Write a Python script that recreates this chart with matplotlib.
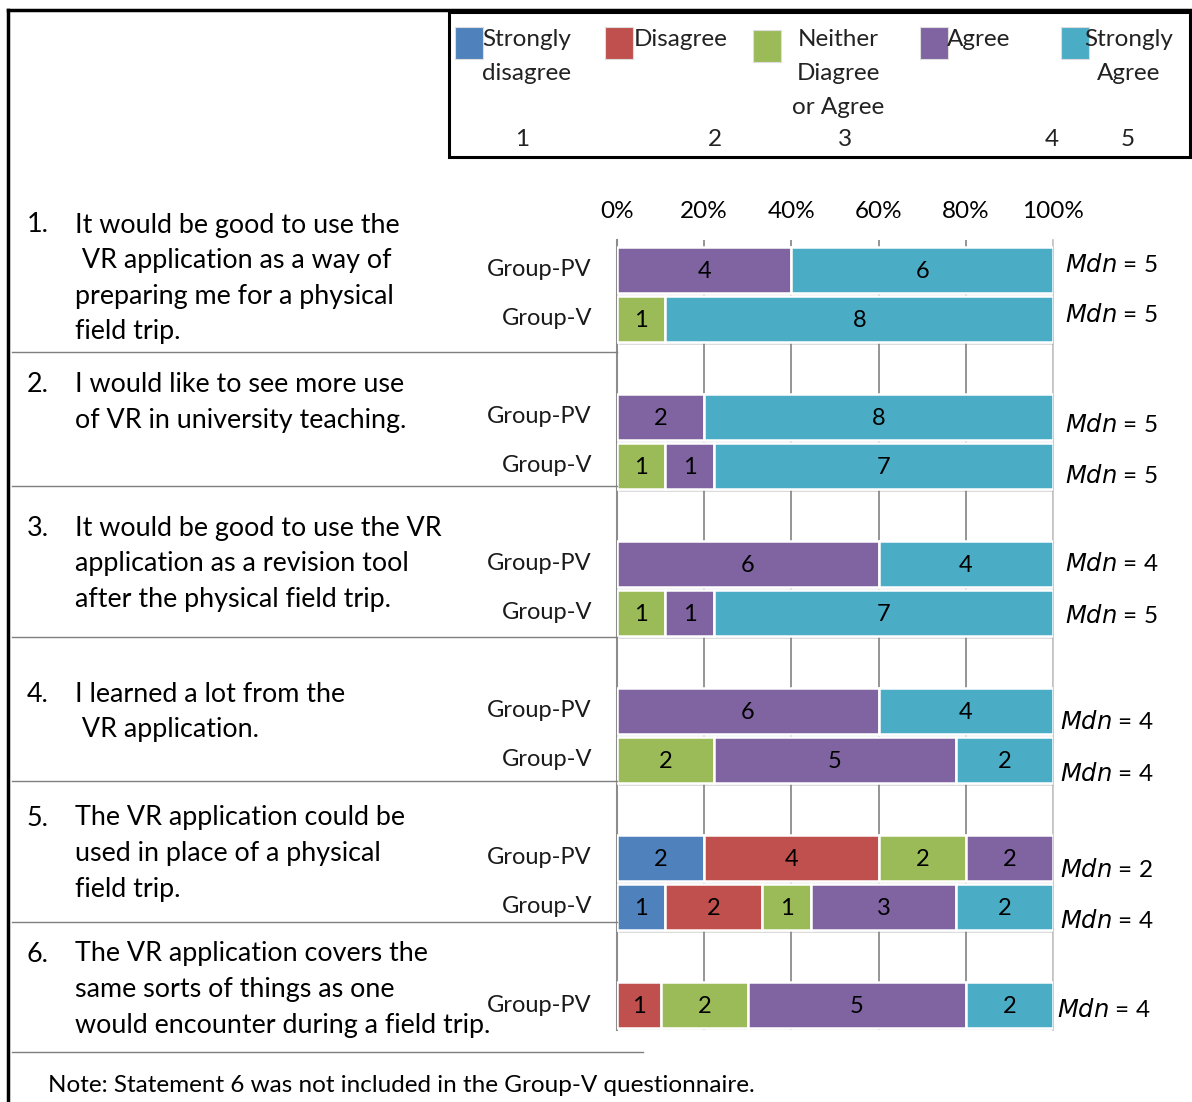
import matplotlib
matplotlib.use("Agg")
import matplotlib.pyplot as plt
import matplotlib.transforms as mtransforms
from matplotlib.patches import Rectangle
from matplotlib.lines import Line2D
import matplotlib.patheffects as pe
import numpy as np

plt.rcParams['font.family'] = ['Lato', 'DejaVu Sans']

# ---- data ----
levels = ["Strongly\ndisagree", "Disagree", "Neither\nDiagree\nor Agree", "Agree", "Strongly\nAgree"]
level_colors = ["#4F81BD", "#C0504D", "#9BBB59", "#8064A2", "#4BACC6"]

statements = [
    "It would be good to use the\n VR application as a way of\npreparing me for a physical\nfield trip.",
    "I would like to see more use\nof VR in university teaching.",
    "It would be good to use the VR\napplication as a revision tool\nafter the physical field trip.",
    "I learned a lot from the\n VR application.",
    "The VR application could be\nused in place of a physical\nfield trip.",
    "The VR application covers the\nsame sorts of things as one\nwould encounter during a field trip.",
]

# counts per response level (1..5)
group_pv = [
    [0, 0, 0, 4, 6],
    [0, 0, 0, 2, 8],
    [0, 0, 0, 6, 4],
    [0, 0, 0, 6, 4],
    [2, 4, 2, 2, 0],
    [0, 1, 2, 5, 2],
]
group_v = [
    [0, 0, 1, 0, 8],
    [0, 0, 1, 1, 7],
    [0, 0, 1, 1, 7],
    [0, 0, 2, 5, 2],
    [1, 2, 1, 3, 2],
    None,
]
median_pv = [5, 5, 4, 4, 2, 4]
median_v = [5, 5, 5, 4, 4, None]

x_ticks = [0, 20, 40, 60, 80, 100]

note = "Note: Statement 6 was not included in the Group-V questionnaire."

# ---- layout helpers (pixel coordinates of the canvas) ----
W, H = 1192, 1102
fig = plt.figure(figsize=(W / 100, H / 100), dpi=100)


def fx(px):
    return px / W


def fy(py):
    return 1 - py / H


ax_l, ax_r, ax_t, ax_b = 617, 1053, 240, 1030
ax = fig.add_axes([fx(ax_l), fy(ax_b), fx(ax_r) - fx(ax_l), fy(ax_t) - fy(ax_b)])

# rows: each statement occupies three slots (PV, V, gap)
rows = []
for i in range(len(statements)):
    rows.append((3 * i, "Group-PV", group_pv[i], median_pv[i], i))
    if group_v[i] is not None:
        rows.append((3 * i + 1, "Group-V", group_v[i], median_v[i], i))

bar_h = 0.95
shadow = [pe.SimplePatchShadow(offset=(1.5, -2), alpha=0.25, shadow_rgbFace="#777777"), pe.Normal()]
for ypos, name, counts, med, qi in rows:
    counts = np.array(counts, dtype=float)
    pct = counts / counts.sum() * 100
    left = 0.0
    for k, (c, p) in enumerate(zip(counts, pct)):
        if c == 0:
            continue
        b = ax.barh(ypos, p, left=left, height=bar_h, color=level_colors[k],
                    edgecolor="white", linewidth=1.8, zorder=3)
        for patch in b:
            patch.set_path_effects(shadow)
        ax.text(left + p / 2, ypos + 0.03, f"{int(c)}", ha="center", va="center",
                fontsize=17, color="black", zorder=5)
        left += p

# axis styling
ax.set_xlim(0, 100)
ax.set_ylim(15.51, -0.61)
ax.set_xticks(x_ticks)
ax.set_xticklabels([f"{t}%" for t in x_ticks])
ax.xaxis.tick_top()
ax.tick_params(axis="x", length=0, pad=13, labelsize=17.5)
ax.set_yticks([])
ax.grid(axis="x", color="#8C8C8C", linewidth=1.3, zorder=0)
for s in ["top", "bottom"]:
    ax.spines[s].set_visible(False)
ax.spines["left"].set_color("#8C8C8C")
ax.spines["left"].set_linewidth(1.5)
ax.spines["right"].set_color("#C8C8C8")
ax.spines["right"].set_linewidth(1.3)
ax.set_facecolor("none")

# group names to the left of the bars, medians to the right
blend = mtransforms.blended_transform_factory(ax.transAxes, ax.transData)
med_nudge = {0: -0.12, 1: -0.08, 3: 0.16, 4: 0.2, 6: 0.0, 7: 0.06,
             9: 0.22, 10: 0.28, 12: 0.24, 13: 0.28, 15: 0.1}
for ypos, name, counts, med, qi in rows:
    ax.text(-25 / 436, ypos, name, transform=blend, ha="right", va="center",
            fontsize=17, color="#1a1a1a")
    mx = 1 + (12 if qi < 3 else (7 if qi < 5 else 4)) / 436
    ax.text(mx, ypos + med_nudge.get(ypos, 0), f"$\\it{{Mdn}}$ = {med}", transform=blend,
            ha="left", va="center", fontsize=17.5, color="black")

# statements down the left side, one line at a time
stmt_top = [225, 385, 528, 694, 818, 954]
line_step = 35.5
for i, (txt, ty) in enumerate(zip(statements, stmt_top)):
    fig.text(fx(27), fy(ty), f"{i + 1}.", ha="left", va="center", fontsize=19.4)
    for j, line in enumerate(txt.split("\n")):
        fig.text(fx(75), fy(ty + j * line_step), line, ha="left", va="center",
                 fontsize=19.4)

# separators between statements
for yy, x1 in zip([352, 486, 637, 781, 922, 1052], [617, 617, 617, 617, 617, 643]):
    fig.add_artist(Line2D([fx(12), fx(x1)], [fy(yy), fy(yy)], color="#7F7F7F", linewidth=1.0))

# outer frame (top and left)
fig.add_artist(Line2D([fx(8), fx(1192)], [fy(10), fy(10)], color="black", linewidth=2.5))
fig.add_artist(Line2D([fx(8), fx(8)], [fy(10), fy(1102)], color="black", linewidth=2.5))

# legend box
fig.add_artist(Rectangle((fx(449), fy(157)), fx(1190) - fx(449), fy(12) - fy(157),
                         transform=fig.transFigure, fill=False, edgecolor="black", linewidth=2.2))
sq = [(455, 27), (605, 27), (753, 30), (920, 27), (1061, 27)]
lbl = [(482, "left"), (634, "left"), (838, "center"), (947, "left"), (1129, "center")]
nums = [522, 715, 845, 1052, 1128]
for k in range(5):
    sx, sy = sq[k]
    fig.add_artist(Rectangle((fx(sx), fy(sy + 32)), fx(28), 32 / H,
                             transform=fig.transFigure, facecolor=level_colors[k],
                             edgecolor="#dddddd", linewidth=0.8))
    lx, ha = lbl[k]
    for j, line in enumerate(levels[k].split("\n")):
        fig.text(fx(lx), fy(39 + j * 34), line, ha=ha, va="center", fontsize=17.5,
                 color="#222222")
    fig.text(fx(nums[k]), fy(139), str(k + 1), ha="center", va="center",
             fontsize=17.5, color="#222222")

fig.text(fx(48), fy(1086), note, ha="left", va="center", fontsize=17.5)

fig.savefig("out.png", dpi=100)
